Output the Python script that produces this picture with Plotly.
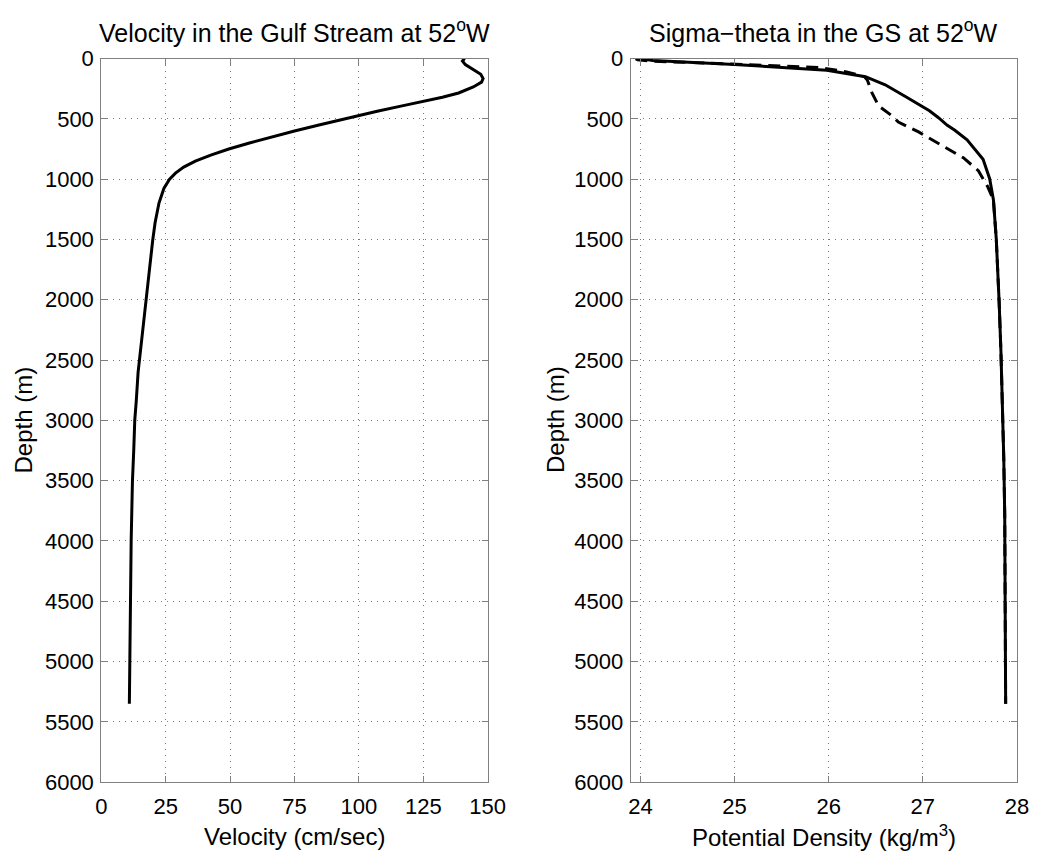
import plotly.graph_objects as go

# ---- Data ----
vel_depth = [0, 20, 50, 90, 130, 165, 195, 235, 285, 320, 350, 390, 437, 500, 550,
             600, 650, 700, 750, 800, 850, 900, 950, 1000, 1077, 1198, 1359, 1500,
             1750, 2000, 2320, 2600, 2835, 3000, 3250, 3505, 4000, 4712, 5350]
velocity = [141.0, 140.2, 141.3, 144.4, 147.3, 148.2, 147.6, 144.4, 138.7, 132.4, 125.5,
            117.2, 107.1, 94.0, 84.5, 75.0, 66.0, 57.5, 49.5, 42.5, 36.5, 32.0, 28.8,
            26.5, 24.3, 22.4, 20.9, 20.0, 18.7, 17.4, 15.5, 14.3, 13.6, 13.0, 12.6, 12.1,
            11.6, 11.1, 10.9]

sig_depth_solid = [5, 16, 48, 97, 150, 217, 312, 432, 486, 553, 594, 674, 835, 996,
                   1170, 1492, 2003, 2432, 3318, 3775, 5350]
sigma_solid = [24.05, 24.13, 25.0, 25.98, 26.39, 26.6, 26.81, 27.07, 27.16, 27.26, 27.34,
               27.47, 27.64, 27.71, 27.75, 27.78, 27.81, 27.83, 27.86, 27.87, 27.88]

sig_depth_dash = [0, 10, 20, 45, 73, 110, 150, 177, 284, 392, 473, 526, 606, 714, 822,
                  929, 1063, 1170, 1492, 2003, 2432, 3318, 3775, 5350]
sigma_dash = [23.95, 23.97, 24.1, 25.0, 25.9, 26.19, 26.38, 26.41, 26.46, 26.53, 26.67,
              26.74, 26.95, 27.19, 27.43, 27.59, 27.69, 27.75, 27.78, 27.81, 27.83, 27.86,
              27.87, 27.88]

depth_ticks = list(range(0, 6001, 500))
vel_ticks = [0, 25, 50, 75, 100, 125, 150]
sig_ticks = [24, 25, 26, 27, 28]

# ---- Figure ----
W, H = 1050, 866
FONT = "Liberation Sans, Arial, sans-serif"
fig = go.Figure()

fig.add_trace(go.Scatter(x=velocity, y=vel_depth, mode="lines",
                         line=dict(color="black", width=3), xaxis="x", yaxis="y",
                         showlegend=False))
fig.add_trace(go.Scatter(x=sigma_dash, y=sig_depth_dash, mode="lines",
                         line=dict(color="black", width=3, dash="12px,7px"),
                         xaxis="x2", yaxis="y2", showlegend=False))
fig.add_trace(go.Scatter(x=sigma_solid, y=sig_depth_solid, mode="lines",
                         line=dict(color="black", width=3), xaxis="x2", yaxis="y2",
                         showlegend=False))

x1 = [97.5 / W, 493.0 / W]
x2 = [639.3 / W, 1034.6 / W]
yd = [(H - 793.0) / H, (H - 48.0) / H]

axcommon = dict(showline=True, linecolor="#808080", linewidth=1, mirror="ticks",
                ticks="inside", ticklen=6, tickcolor="#808080",
                showgrid=True, gridcolor="#777777", griddash="1px,5px", gridwidth=1,
                zeroline=False, tickfont=dict(family=FONT, size=22, color="black"))

fig.update_layout(
    width=W, height=H,
    margin=dict(l=0, r=0, t=0, b=0),
    paper_bgcolor="white", plot_bgcolor="white",
    font=dict(family=FONT, size=22, color="black"),
    xaxis=dict(domain=x1, range=[0, 150], tickvals=vel_ticks, anchor="y",
               ticklabelstandoff=4, **axcommon),
    yaxis=dict(domain=yd, range=[6000, 0], tickvals=depth_ticks, anchor="x",
               ticklabelstandoff=2, **axcommon),
    xaxis2=dict(domain=x2, range=[23.896, 28], tickvals=sig_ticks, anchor="y2",
                ticklabelstandoff=4, **axcommon),
    yaxis2=dict(domain=yd, range=[6000, 0], tickvals=depth_ticks, anchor="x2",
                ticklabelstandoff=2, **axcommon),
)

TS = 24
ann = []
ann.append(dict(text="Velocity in the Gulf Stream at 52<sup>o</sup>W", x=(x1[0] + x1[1]) / 2,
                y=(H - 20) / H, xref="paper", yref="paper", showarrow=False,
                font=dict(size=25, family=FONT), xanchor="center", yanchor="middle"))
ann.append(dict(text="Sigma\u2212theta in the GS at 52<sup>o</sup>W", x=(x2[0] + x2[1]) / 2,
                y=(H - 20) / H, xref="paper", yref="paper", showarrow=False,
                font=dict(size=25, family=FONT), xanchor="center", yanchor="middle"))
ann.append(dict(text="Velocity (cm/sec)", x=(x1[0] + x1[1]) / 2, y=(H - 849) / H,
                xref="paper", yref="paper", showarrow=False,
                font=dict(size=TS, family=FONT), xanchor="center", yanchor="middle"))
ann.append(dict(text="Potential Density (kg/m<sup>3</sup>)", x=(x2[0] + x2[1]) / 2,
                y=(H - 849) / H, xref="paper", yref="paper", showarrow=False,
                font=dict(size=TS, family=FONT), xanchor="center", yanchor="middle"))
ann.append(dict(text="Depth (m)", x=18 / W, y=(H - 420) / H, textangle=-90,
                xref="paper", yref="paper", showarrow=False,
                font=dict(size=TS, family=FONT), xanchor="center", yanchor="middle"))
ann.append(dict(text="Depth (m)", x=563 / W, y=(H - 420) / H, textangle=-90,
                xref="paper", yref="paper", showarrow=False,
                font=dict(size=TS, family=FONT), xanchor="center", yanchor="middle"))
fig.update_layout(annotations=ann)

fig.write_html("out.html")
